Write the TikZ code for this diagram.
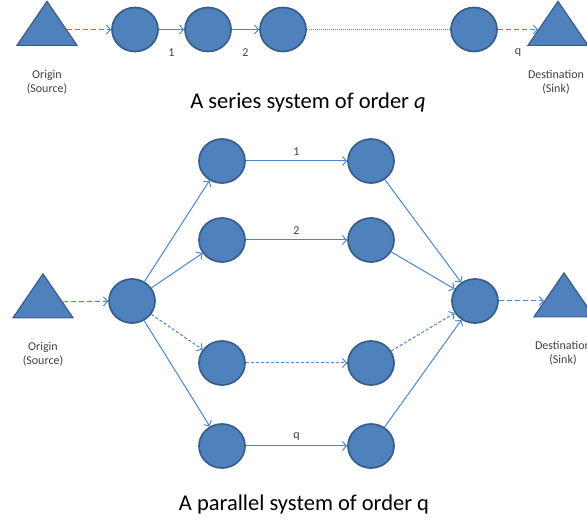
\documentclass[tikz,border=0pt]{standalone}
\usepackage{fontspec}
\setmainfont{Carlito}
\usetikzlibrary{shapes,arrows.meta}
\definecolor{nodefill}{HTML}{4F81BD}
\definecolor{nodeline}{HTML}{385D8A}
\definecolor{linkcol}{HTML}{4F86C6}
\definecolor{captioncol}{HTML}{404040}

\begin{document}
\begin{tikzpicture}[x=1pt,y=-1pt,node distance=73pt,>={Straight Barb[length=4pt,width=9pt]}]
\tikzstyle{vertex}=[draw=nodeline,fill=nodefill,ellipse,line width=1.7pt,minimum width=46pt,minimum height=44pt,inner sep=0pt]
\tikzstyle{terminal}=[draw=nodeline,fill=nodefill,isosceles triangle,shape border rotate=90,isosceles triangle stretches,minimum width=60pt,minimum height=44pt,inner sep=0pt,line width=1.2pt]
\tikzstyle{caption}=[align=center,text=captioncol,font=\fontsize{12}{14}\selectfont]
\tikzstyle{title}=[font=\fontsize{22.5}{26}\selectfont]
\tikzstyle{link}=[draw=linkcol,line width=1pt]
\useasboundingbox (0,0) rectangle (587,521);
% series system
\node [terminal] (o1) at (47,29.5) {};
\node [vertex,right of=o1,node distance=88pt] (s1) {};
\node [vertex,right of=s1] (s2) {};
\node [vertex,right of=s2,node distance=75pt] (s3) {};
\node [vertex,right of=s3,node distance=191pt] (sq) {};
\node [terminal,right of=sq,node distance=84pt] (d1) {};
\node [caption] (o1txt) at (47,82) {Origin\\(Source)};
\node [caption] (d1txt) at (556,82) {Destination\\(Sink)};
\node [title] (t1) at (308,103) {A series system of order \textit{q}};
\path[every edge/.style={link},every node/.style={caption}]
    (o1) edge [->,dash pattern=on 5pt off 3pt] (s1)
    (s1) edge [->] node [below=15pt] {1} (s2)
    (s2) edge [->] node [below=15pt] {2} (s3)
    (s3) edge [densely dotted,line width=0.7pt] (sq)
    (sq) edge [->,dash pattern=on 5pt off 3pt] node [below=15pt] {q} (d1);
% parallel system
\node [terminal] (o2) at (43,302) {};
\node [vertex] (src) at (132,301) {};
\node [vertex] (a1) at (222,161) {};
\node [vertex,below of=a1,node distance=79pt] (a2) {};
\node [vertex,below of=a2,node distance=123pt] (a3) {};
\node [vertex,below of=a3,node distance=83pt] (a4) {};
\node [vertex,right of=a1,node distance=149pt] (b1) {};
\node [vertex,right of=a2,node distance=149pt] (b2) {};
\node [vertex,right of=a3,node distance=149pt] (b3) {};
\node [vertex,right of=a4,node distance=149pt] (b4) {};
\node [vertex] (snk) at (475,301) {};
\node [terminal] (d2) at (564,301) {};
\node [caption] (o2txt) at (43,354) {Origin\\(Source)};
\node [caption] (d2txt) at (563,353) {Destination\\(Sink)};
\node [title] (t2) at (304,505) {A parallel system of order q};
\path[every edge/.style={link},every node/.style={caption}]
    (o2) edge [->,dash pattern=on 5pt off 3pt] (src)
    (src) edge [->] (a1)
    (src) edge [->] (a2)
    (src) edge [->,dash pattern=on 3pt off 2pt] (a3)
    (src) edge [->] (a4);
\path[every edge/.style={link},every node/.style={caption}]
    (a1) edge [->] node [above=2pt] {1} (b1)
    (a2) edge [->] node [above=2pt] {2} (b2)
    (a3) edge [->,dash pattern=on 3pt off 2pt] (b3)
    (a4) edge [->] node [above=2pt] {q} (b4);
\path[every edge/.style={link}]
    (b1) edge [->] (snk)
    (b2) edge [->] (snk)
    (b3) edge [->,dash pattern=on 3pt off 2pt] (snk)
    (b4) edge [->] (snk)
    (snk) edge [->,dash pattern=on 5pt off 3pt] (d2);
\end{tikzpicture}
\end{document}
